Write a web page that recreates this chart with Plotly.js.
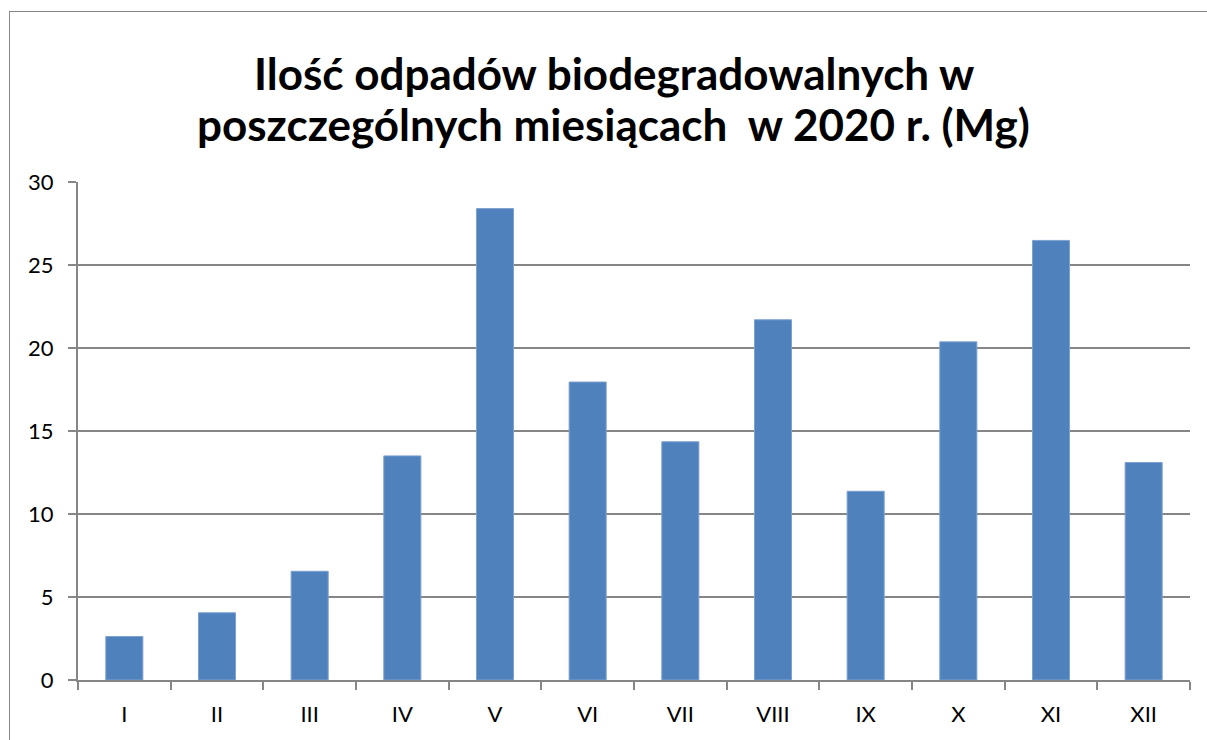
<!DOCTYPE html>
<html>
<head>
<meta charset="utf-8">
<script src="https://cdn.plot.ly/plotly-3.0.1.min.js"></script>
<style>
  html, body { margin: 0; padding: 0; background: #fff; overflow: hidden; }
  #chart { position: absolute; left: 0; top: 0; width: 1207px; height: 740px; }
  #frame { position: absolute; left: 9px; top: 11px; width: 1300px; height: 800px;
           border: 1px solid #868686; box-sizing: border-box; pointer-events: none; }
</style>
</head>
<body>
<div id="chart"></div>
<div id="frame"></div>
<script>
const months = ["I", "II", "III", "IV", "V", "VI", "VII", "VIII", "IX", "X", "XI", "XII"];
const amounts = [2.62, 4.05, 6.55, 13.5, 28.4, 17.95, 14.35, 21.7, 11.37, 20.37, 26.48, 13.1];
const yTicks = [0, 5, 10, 15, 20, 25, 30];
const titleLines = ["Ilość odpadów biodegradowalnych w", "poszczególnych miesiącach  w 2020 r. (Mg)"];

const trace = {
  type: "bar",
  x: months,
  y: amounts,
  marker: { color: "#4F81BD", line: { color: "#7EA1D0", width: 1 } },
  hoverinfo: "x+y"
};

const titleFont = { family: "Lato, 'Open Sans', sans-serif", size: 44, color: "#000000", weight: "bold" };

const layout = {
  width: 1207,
  height: 740,
  paper_bgcolor: "#ffffff",
  plot_bgcolor: "#ffffff",
  margin: { l: 78, r: 17, t: 182, b: 60 },
  bargap: 0.6,
  showlegend: false,
  font: { family: "Lato, 'Open Sans', sans-serif", color: "#000000", size: 22 },
  annotations: [
    { text: titleLines[0], xref: "paper", yref: "paper", x: 0.482, y: 1.219,
      xanchor: "center", yanchor: "middle", showarrow: false, font: titleFont },
    { text: titleLines[1], xref: "paper", yref: "paper", x: 0.482, y: 1.116,
      xanchor: "center", yanchor: "middle", showarrow: false, font: titleFont }
  ],
  xaxis: {
    type: "category",
    showline: true,
    linecolor: "#868686",
    linewidth: 2,
    ticks: "outside",
    tickson: "boundaries",
    ticklen: 8,
    tickwidth: 2,
    tickcolor: "#868686",
    showgrid: false,
    ticklabelstandoff: 14,
    tickfont: { size: 22, color: "#000000" },
    fixedrange: true
  },
  yaxis: {
    range: [0, 30],
    tickvals: yTicks,
    ticktext: yTicks.map(String),
    showline: true,
    linecolor: "#868686",
    linewidth: 2,
    ticks: "outside",
    ticklen: 8,
    tickwidth: 2,
    tickcolor: "#868686",
    showgrid: true,
    gridcolor: "#868686",
    gridwidth: 2,
    zeroline: false,
    ticklabelstandoff: 10,
    tickfont: { size: 22, color: "#000000" },
    fixedrange: true
  }
};

Plotly.newPlot("chart", [trace], layout, { displayModeBar: false, staticPlot: true });
</script>
</body>
</html>
